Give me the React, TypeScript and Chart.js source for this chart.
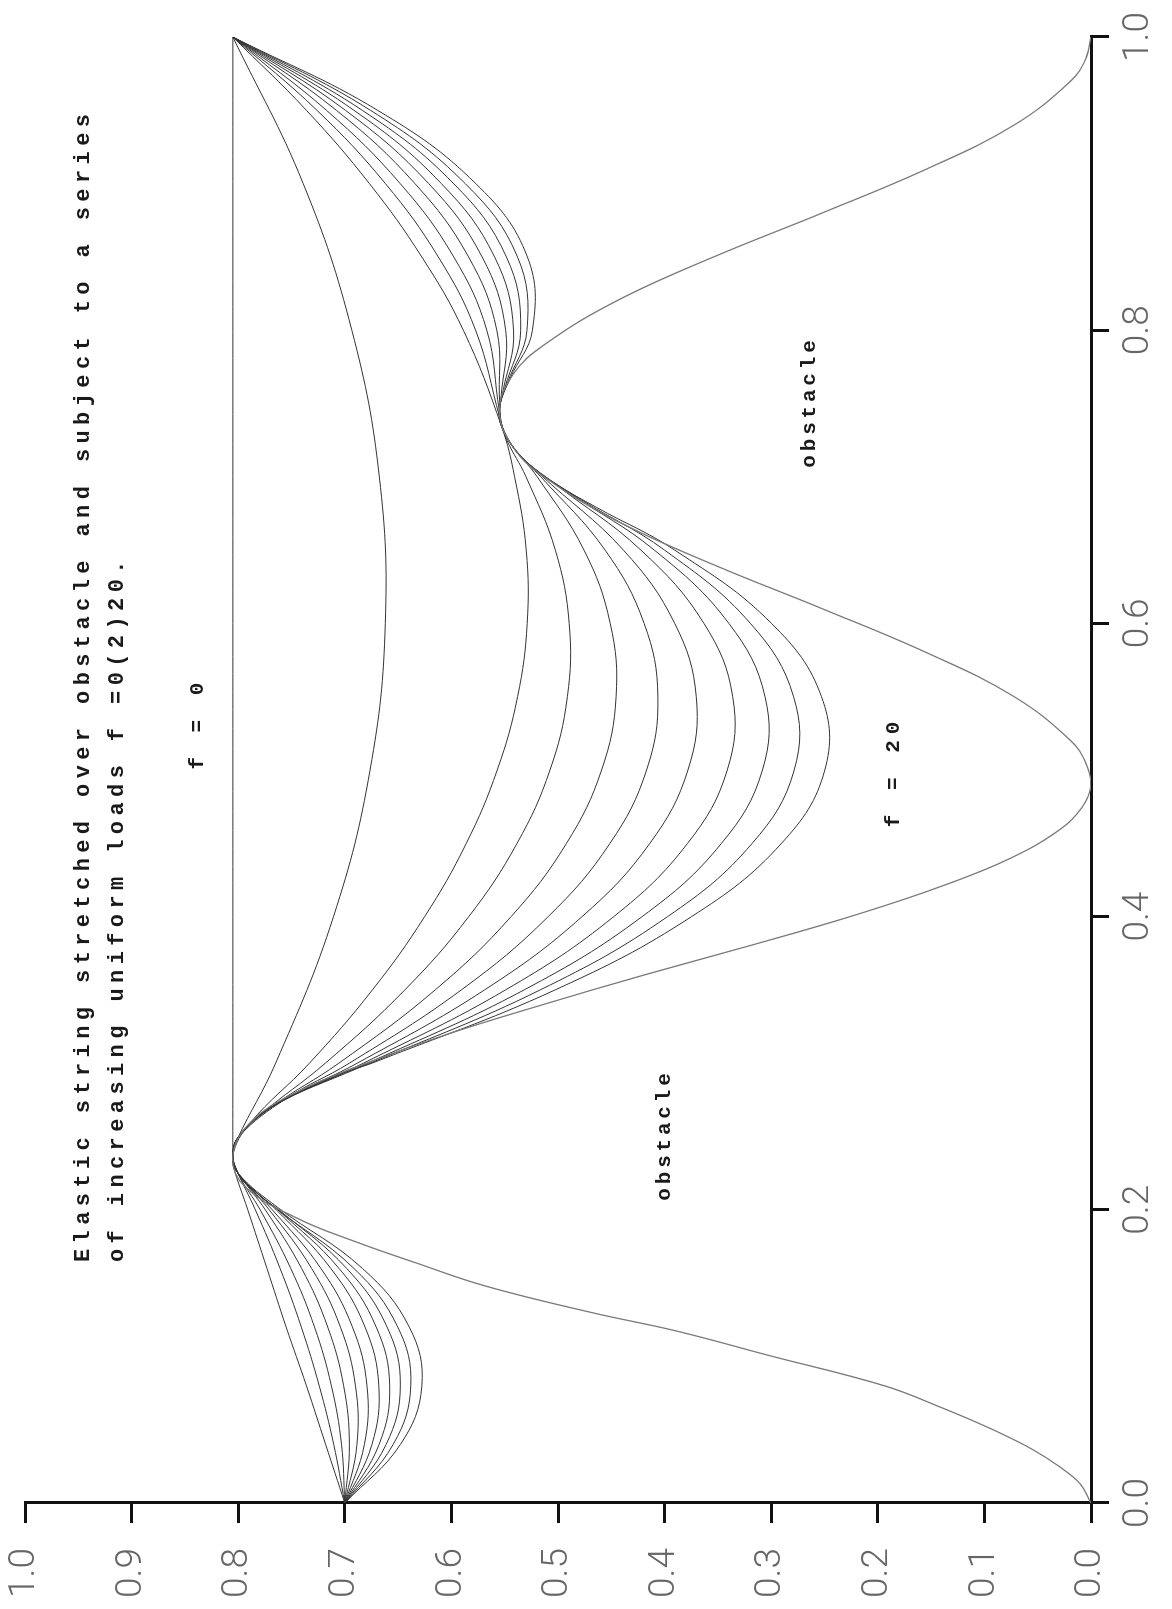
import React, { useEffect, useRef } from "react";
import { Chart, registerables } from "chart.js";

Chart.register(...registerables);

// ---- data (x = position along span, y = height) ----
const X_TICKS = [0, 0.2, 0.4, 0.6, 0.8, 1.0];
const Y_TICKS = [0, 0.1, 0.2, 0.3, 0.4, 0.5, 0.6, 0.7, 0.8, 0.9, 1.0];
const LOADS = [0, 2, 4, 6, 8, 10, 12, 14, 16, 18, 20];

const OBSTACLE_X = [0, 0.013, 0.025, 0.037, 0.051, 0.065, 0.08, 0.101, 0.117, 0.13, 0.148, 0.164, 0.178, 0.194, 0.216, 0.237, 0.26, 0.28, 0.3, 0.32, 0.34, 0.36, 0.38, 0.4, 0.42, 0.44, 0.46, 0.475, 0.49, 0.505, 0.52, 0.55, 0.58, 0.61, 0.64, 0.67, 0.7, 0.72, 0.745, 0.77, 0.79, 0.82, 0.85, 0.88, 0.91, 0.94, 0.97, 0.985, 1.0];
const OBSTACLE_Y = [0, 0.01, 0.03, 0.056, 0.095, 0.14, 0.194, 0.304, 0.387, 0.469, 0.568, 0.634, 0.689, 0.744, 0.794, 0.805, 0.788, 0.746, 0.68, 0.603, 0.514, 0.42, 0.321, 0.226, 0.143, 0.075, 0.028, 0.008, 0, 0.005, 0.019, 0.072, 0.154, 0.252, 0.354, 0.445, 0.513, 0.542, 0.555, 0.542, 0.513, 0.445, 0.354, 0.252, 0.154, 0.072, 0.019, 0.005, 0];

const STRING_F0 = [[0, 0.7], [0.04, 0.718], [0.08, 0.736], [0.12, 0.755], [0.16, 0.773], [0.2, 0.791], [0.23, 0.8047], [0.237, 0.805], [0.3, 0.805], [0.5, 0.805], [0.7, 0.805], [1, 0.805]];
const STRING_F2 = [[0, 0.7], [0.04, 0.7104], [0.08, 0.724], [0.12, 0.7408], [0.16, 0.7607], [0.2, 0.7839], [0.2268, 0.8012], [0.237, 0.805], [0.2483, 0.8008], [0.3, 0.7649], [0.4, 0.7106], [0.5, 0.6763], [0.6, 0.662], [0.7, 0.6676], [0.8, 0.6934], [0.9, 0.739], [1, 0.805]];
const STRING_F4 = [[0, 0.7], [0.04, 0.7031], [0.08, 0.7126], [0.12, 0.7284], [0.16, 0.7507], [0.2, 0.7794], [0.2235, 0.7992], [0.237, 0.805], [0.2589, 0.7892], [0.3, 0.7332], [0.35, 0.6741], [0.4, 0.6251], [0.45, 0.586], [0.5, 0.557], [0.55, 0.5379], [0.6, 0.5289], [0.65, 0.5298], [0.7, 0.5407], [0.7345, 0.553], [0.8, 0.5888], [0.85, 0.6278], [0.9, 0.6769], [0.95, 0.736], [1, 0.805]];
const STRING_F6 = [[0, 0.7], [0.04, 0.6957], [0.08, 0.7011], [0.12, 0.716], [0.16, 0.7405], [0.2, 0.7746], [0.2204, 0.7957], [0.225, 0.8002], [0.237, 0.805], [0.25, 0.7994], [0.2649, 0.7793], [0.3, 0.7183], [0.35, 0.6437], [0.4, 0.5837], [0.45, 0.5384], [0.5, 0.5075], [0.55, 0.4912], [0.6, 0.4895], [0.65, 0.5025], [0.7, 0.53], [0.7251, 0.548], [0.7401, 0.5545], [0.8, 0.5773], [0.85, 0.6123], [0.9, 0.6619], [0.95, 0.7261], [1, 0.805]];
const STRING_F8 = [[0, 0.7], [0.04, 0.6886], [0.08, 0.69], [0.12, 0.7041], [0.16, 0.7311], [0.2, 0.7709], [0.2174, 0.7922], [0.225, 0.8002], [0.237, 0.805], [0.25, 0.7994], [0.2707, 0.7675], [0.3, 0.7056], [0.35, 0.6152], [0.4, 0.544], [0.45, 0.492], [0.5, 0.4591], [0.55, 0.4455], [0.6, 0.451], [0.65, 0.4756], [0.7, 0.5195], [0.7166, 0.538], [0.73, 0.5503], [0.7449, 0.555], [0.8, 0.5668], [0.85, 0.5978], [0.9, 0.648], [0.95, 0.7172], [1, 0.805]];
const STRING_F10 = [[0, 0.7], [0.04, 0.6816], [0.08, 0.6792], [0.12, 0.6928], [0.16, 0.7224], [0.2, 0.768], [0.2145, 0.7885], [0.225, 0.8002], [0.237, 0.805], [0.25, 0.7994], [0.2759, 0.755], [0.3, 0.6958], [0.35, 0.5907], [0.4, 0.5092], [0.45, 0.4512], [0.5, 0.4169], [0.55, 0.4063], [0.6, 0.4192], [0.65, 0.4558], [0.7, 0.5161], [0.7089, 0.5285], [0.73, 0.5503], [0.7494, 0.5546], [0.8, 0.5574], [0.85, 0.5839], [0.9, 0.6342], [0.95, 0.7079], [1, 0.805]];
const STRING_F12 = [[0, 0.7], [0.04, 0.6745], [0.08, 0.6681], [0.12, 0.681], [0.16, 0.7131], [0.2, 0.7643], [0.2118, 0.7831], [0.225, 0.8002], [0.237, 0.805], [0.25, 0.7994], [0.265, 0.7791], [0.2807, 0.742], [0.3, 0.6884], [0.35, 0.5689], [0.4, 0.4774], [0.45, 0.4138], [0.5, 0.3781], [0.55, 0.3703], [0.6, 0.3905], [0.65, 0.4386], [0.7018, 0.517], [0.72, 0.5419], [0.74, 0.5545], [0.7535, 0.5535], [0.8, 0.5491], [0.85, 0.5712], [0.9, 0.6213], [0.95, 0.6994], [1, 0.805]];
const STRING_F14 = [[0, 0.7], [0.04, 0.6678], [0.08, 0.6579], [0.12, 0.6705], [0.16, 0.7054], [0.2, 0.7628], [0.2091, 0.779], [0.225, 0.8002], [0.237, 0.805], [0.25, 0.7994], [0.27, 0.769], [0.2852, 0.7283], [0.3, 0.6826], [0.35, 0.5492], [0.4, 0.4477], [0.45, 0.3784], [0.5, 0.3412], [0.55, 0.3361], [0.6, 0.3631], [0.65, 0.4222], [0.6954, 0.5032], [0.715, 0.5361], [0.735, 0.5529], [0.745, 0.555], [0.7572, 0.5519], [0.8, 0.5417], [0.85, 0.5595], [0.9, 0.6094], [0.95, 0.6914], [1, 0.805]];
const STRING_F16 = [[0, 0.7], [0.04, 0.6612], [0.08, 0.6479], [0.12, 0.6603], [0.16, 0.6982], [0.2, 0.7618], [0.2065, 0.7746], [0.225, 0.8002], [0.237, 0.805], [0.25, 0.7994], [0.27, 0.769], [0.2893, 0.7147], [0.3, 0.6786], [0.35, 0.5318], [0.4, 0.4211], [0.45, 0.3466], [0.5, 0.3082], [0.55, 0.3058], [0.6, 0.3397], [0.65, 0.4096], [0.6895, 0.4904], [0.71, 0.5293], [0.73, 0.5503], [0.745, 0.555], [0.7607, 0.5498], [0.8, 0.535], [0.85, 0.5484], [0.9, 0.5979], [0.95, 0.6836], [1, 0.805]];
const STRING_F18 = [[0, 0.7], [0.04, 0.6546], [0.08, 0.6381], [0.12, 0.6503], [0.16, 0.6914], [0.204, 0.7698], [0.225, 0.8002], [0.237, 0.805], [0.25, 0.7994], [0.27, 0.769], [0.2931, 0.7013], [0.3, 0.6762], [0.35, 0.5167], [0.4, 0.3972], [0.45, 0.3178], [0.5, 0.2784], [0.55, 0.279], [0.6, 0.3195], [0.65, 0.4], [0.6841, 0.4775], [0.71, 0.5293], [0.73, 0.5503], [0.745, 0.555], [0.764, 0.5474], [0.8, 0.5291], [0.85, 0.538], [0.9, 0.587], [0.95, 0.6759], [1, 0.805]];
const STRING_F20 = [[0, 0.7], [0.04, 0.6478], [0.08, 0.6277], [0.12, 0.6395], [0.16, 0.6834], [0.2017, 0.7631], [0.225, 0.8002], [0.237, 0.805], [0.25, 0.7994], [0.27, 0.769], [0.2966, 0.6878], [0.3, 0.6745], [0.35, 0.5027], [0.4, 0.3747], [0.45, 0.2903], [0.5, 0.2497], [0.55, 0.2528], [0.6, 0.2997], [0.65, 0.3905], [0.6792, 0.464], [0.7, 0.5125], [0.72, 0.5419], [0.745, 0.555], [0.767, 0.5449], [0.8, 0.524], [0.85, 0.5287], [0.9, 0.5771], [0.95, 0.6692], [1, 0.805]];

const STRINGS = [STRING_F0, STRING_F2, STRING_F4, STRING_F6, STRING_F8, STRING_F10, STRING_F12, STRING_F14, STRING_F16, STRING_F18, STRING_F20];

const TITLE_LINES = [
  "Elastic string stretched over obstacle and subject to a series",
  "of increasing uniform loads f =0(2)20.",
];
const LABEL_TEXTS = ["obstacle", "obstacle", "f = 0", "f = 20"];
const LABEL_X = [0.251, 0.751, 0.532, 0.499];
const LABEL_Y = [0.4, 0.264, 0.838, 0.185];

// unrotated canvas size (the whole drawing is turned a quarter turn on the page)
const W = 1609;
const H = 1172;

const textPlugin = {
  id: "plotTexts",
  afterDraw(chart: any) {
    const ctx = chart.ctx as CanvasRenderingContext2D;
    const xs = chart.scales.x;
    const ys = chart.scales.y;
    ctx.save();
    ctx.fillStyle = "#1a1a1a";
    ctx.textBaseline = "middle";
    ctx.font = 'bold 22px "Liberation Mono", "DejaVu Sans Mono", monospace';
    (ctx as any).letterSpacing = "5.4px";
    ctx.textAlign = "left";
    ctx.fillText(TITLE_LINES[0], 347, 83);
    ctx.fillText(TITLE_LINES[1], 347, 117);
    ctx.textAlign = "center";
    LABEL_TEXTS.forEach((t, i) => {
      (ctx as any).letterSpacing = t === "obstacle" ? "3.8px" : "6px";
      ctx.font = 'bold 21px "Liberation Mono", "DejaVu Sans Mono", monospace';
      ctx.fillText(t, xs.getPixelForValue(LABEL_X[i]), ys.getPixelForValue(LABEL_Y[i]));
    });
    ctx.restore();
  },
};

export default function App() {
  const ref = useRef<HTMLCanvasElement | null>(null);

  useEffect(() => {
    if (!ref.current) return;
    const tickFont = { family: 'Roboto, "Liberation Sans", sans-serif', size: 37, weight: "300" as any };
    const datasets: any[] = [
      {
        label: "obstacle",
        data: OBSTACLE_X.map((x, i) => ({ x, y: OBSTACLE_Y[i] })),
        borderColor: "#7a7a7a",
        borderWidth: 1.3,
        pointRadius: 0,
        showLine: true,
        tension: 0.4,
      },
      ...STRINGS.map((s, i) => ({
        label: "f = " + LOADS[i],
        data: s.map(([x, y]) => ({ x, y })),
        borderColor: "#333333",
        borderWidth: 1,
        pointRadius: 0,
        showLine: true,
        tension: 0.4,
      })),
    ];
    const chart = new Chart(ref.current, {
      type: "scatter",
      data: { datasets },
      plugins: [textPlugin],
      options: {
        animation: false,
        responsive: false,
        events: [],
        layout: { padding: { top: 25, right: 37, left: 11, bottom: 0 } },
        plugins: { legend: { display: false }, tooltip: { enabled: false }, title: { display: false } },
        scales: {
          x: {
            type: "linear",
            min: 0,
            max: 1,
            afterFit: (s: any) => { s.height = 81; },
            afterBuildTicks: (s: any) => { s.ticks = X_TICKS.map((v) => ({ value: v })); },
            border: { display: true, color: "#111", width: 3 },
            grid: { drawOnChartArea: false, drawTicks: true, tickLength: 18, color: "#111", lineWidth: 3 },
            ticks: {
              color: "#666",
              font: tickFont,
              padding: 8,
              maxRotation: 0,
              minRotation: 0,
              callback: (v: any) => Number(v).toFixed(1),
            },
          },
          y: {
            type: "linear",
            min: 0,
            max: 1,
            afterFit: (s: any) => { s.width = 95; },
            afterBuildTicks: (s: any) => { s.ticks = Y_TICKS.map((v) => ({ value: v })); },
            border: { display: true, color: "#111", width: 3 },
            grid: { drawOnChartArea: false, drawTicks: true, tickLength: 20, color: "#111", lineWidth: 3 },
            ticks: {
              color: "#666",
              font: tickFont,
              padding: 0,
              crossAlign: "far",
              callback: (v: any) => Number(v).toFixed(1),
            },
          },
        },
      },
    });
    return () => chart.destroy();
  }, []);

  return (
    <div
      style={{
        position: "fixed",
        left: 0,
        top: 0,
        width: W,
        height: H,
        background: "#fff",
        transformOrigin: "0 0",
        transform: `translate(0px, ${W}px) rotate(-90deg)`,
      }}
    >
      <canvas ref={ref} width={W} height={H} style={{ display: "block", width: W, height: H }} />
    </div>
  );
}
